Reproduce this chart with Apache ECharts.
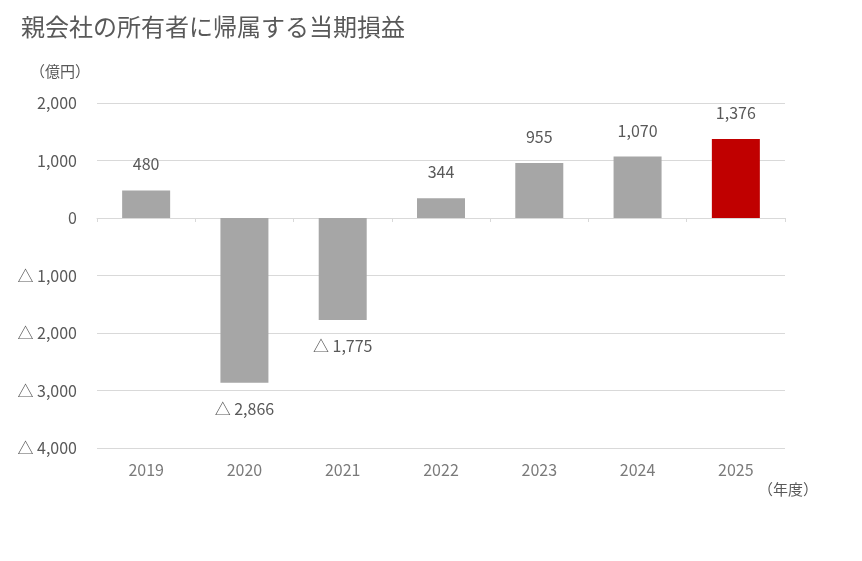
<!DOCTYPE html><html><head><meta charset="utf-8"><script src="https://cdn.jsdelivr.net/npm/echarts@6/dist/echarts.min.js"></script></head><body style="margin:0"><div id="c" style="width:862px;height:561px"></div><script>
const categories=['2019','2020','2021','2022','2023','2024','2025'];
const values=[480,-2866,-1775,344,955,1070,1376];
const fmt=v=>{const s=Math.abs(v).toLocaleString('en-US');return v<0?'△ '+s:s;};
const font='"Noto Sans CJK JP","Noto Sans",sans-serif';
const c=echarts.init(document.getElementById('c'));
c.setOption({
 textStyle:{fontFamily:font},
 title:{text:'親会社の所有者に帰属する当期損益',left:16,top:10,textStyle:{fontSize:24,fontWeight:'normal',color:'#595959',fontFamily:font}},
 graphic:[{type:'text',left:30,top:64,style:{text:'（億円）',fontSize:15,fill:'#595959',fontFamily:font}},
 {type:'text',left:758,top:482,style:{text:'（年度）',fontSize:15,fill:'#595959',fontFamily:font}}],
 grid:{left:97,right:77,top:103,bottom:113},
 xAxis:{type:'category',data:categories,position:'bottom',axisLine:{onZero:true,lineStyle:{color:'#d9d9d9'}},axisTick:{show:true,length:4,lineStyle:{color:'#d9d9d9'}},
  axisLabel:{show:false}},
 yAxis:{type:'value',min:-4000,max:2000,interval:1000,axisLabel:{formatter:fmt,fontSize:16,color:'#595959',margin:20},splitLine:{lineStyle:{color:'#d9d9d9'}}},
 series:[{type:'bar',barWidth:48,data:values.map((v,i)=>({value:v,itemStyle:{color:i==6?'#c00000':'#a6a6a6'},label:{position:v<0?'bottom':'top'}})),
  label:{show:true,formatter:p=>fmt(p.value),fontSize:16,color:'#595959',distance:18}},
  {type:'scatter',data:categories.map(c=>[c,-4000]),symbolSize:0,silent:true,label:{show:true,position:'bottom',distance:14,formatter:p=>p.value[0],fontSize:16,color:'#595959'}}]
});
</script></body></html>
